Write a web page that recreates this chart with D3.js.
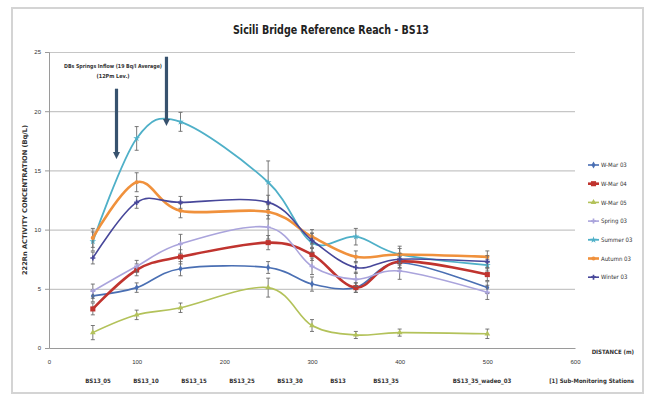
<!DOCTYPE html>
<html>
<head>
<meta charset="utf-8">
<script src="https://cdn.jsdelivr.net/npm/d3@7/dist/d3.min.js"></script>
<style>
  html, body { margin: 0; padding: 0; background: #fff; }
  svg { display: block; font-family: "Liberation Sans Narrow", "DejaVu Sans Condensed", "Liberation Sans", sans-serif; }
</style>
</head>
<body>
<svg id="chart" width="649" height="399"></svg>
<script>
// Distances of the sampling points along the reach (m)
const distances = [50, 100, 150, 250, 300, 350, 400, 500];

// Survey series
const seriesNames = ["W-Mar 03", "W-Mar 04", "W-Mar 05", "Spring 03", "Summer 03", "Autumn 03", "Winter 03"];
const wMar03   = [4.4, 5.1, 6.7, 6.8, 5.4, 5.1, 7.2, 5.1];
const wMar04   = [3.3, 6.6, 7.7, 8.9, 7.9, 5.1, 7.3, 6.2];
const wMar05   = [1.3, 2.8, 3.4, 5.1, 1.9, 1.1, 1.3, 1.2];
const spring03 = [4.8, 6.9, 8.8, 10.2, 6.9, 5.8, 6.5, 4.7];
const summer03 = [9.0, 17.7, 19.1, 14.0, 8.9, 9.4, 7.9, 7.0];
const autumn03 = [9.3, 14.0, 11.6, 11.5, 9.4, 7.7, 7.9, 7.7];
const winter03 = [7.6, 12.3, 12.3, 12.3, 9.1, 6.8, 7.5, 7.3];

// Error half-widths
const errWMar03   = [0.5, 0.4, 0.6, 0.5, 0.6, 0.4, 0.5, 0.5];
const errWMar04   = [0.5, 0.5, 0.6, 0.6, 0.5, 0.4, 0.5, 0.5];
const errWMar05   = [0.6, 0.4, 0.4, 0.8, 0.5, 0.3, 0.3, 0.4];
const errSpring03 = [0.6, 0.5, 0.8, 1.0, 0.7, 0.6, 0.7, 0.6];
const errSummer03 = [0.8, 1.0, 0.8, 1.8, 0.8, 0.7, 0.7, 0.5];
const errAutumn03 = [0.8, 0.8, 0.6, 0.6, 0.6, 0.5, 0.5, 0.5];
const errWinter03 = [0.5, 0.5, 0.5, 0.6, 0.6, 0.5, 0.5, 0.5];

// Axis ticks
const yTicks = [0, 5, 10, 15, 20, 25];
const xTicks = [0, 100, 200, 300, 400, 500, 600];

// Sub-monitoring station names (one slot left empty)
const stations = ["BS13_05", "BS13_10", "BS13_15", "BS13_25", "BS13_30", "BS13", "BS13_35", "", "BS13_35_wadeo_03"];

// Spring inflow arrows: [distance, top value, bottom value]
const arrows = [[77, 21.9, 16.0], [134, 24.6, 18.8]];

const seriesValues = [wMar03, wMar04, wMar05, spring03, summer03, autumn03, winter03];
const seriesErrors = [errWMar03, errWMar04, errWMar05, errSpring03, errSummer03, errAutumn03, errWinter03];
const colors  = ["#4a6fb3", "#c0342f", "#b3c25a", "#aaa4dc", "#4fb0c8", "#f0913c", "#47479a"];
const widths  = [1.6, 2.6, 1.6, 1.6, 1.8, 2.6, 1.6];
const markers = ["diamond", "square", "triangle", "cross", "star", "circle", "cross"];

const svg = d3.select("#chart");

// Outer chart frame
svg.append("rect").attr("x", 12).attr("y", 8).attr("width", 631).attr("height", 385)
  .attr("fill", "#fff").attr("stroke", "#d4d4d4").attr("stroke-width", 2);

const x = d3.scaleLinear().domain([0, 600]).range([49, 575]);
const y = d3.scaleLinear().domain([0, 25]).range([348, 52]);

// Title
svg.append("text").attr("x", 331).attr("y", 34).attr("text-anchor", "middle")
  .attr("font-size", 13).attr("font-weight", "bold").attr("fill", "#222")
  .attr("textLength", 196).attr("lengthAdjust", "spacingAndGlyphs")
  .text("Sicili Bridge Reference Reach - BS13");

// Horizontal gridlines
const grid = svg.append("g").attr("transform", `translate(${x(0)},0)`)
  .call(d3.axisLeft(y).tickValues(yTicks.filter(v => v > 0)).tickSize(-(x(600) - x(0))).tickFormat(""));
grid.select(".domain").remove();
grid.selectAll("line").attr("stroke", "#c6c6c6").attr("stroke-width", 1.2);

// Y axis
const yAxis = svg.append("g").attr("transform", `translate(${x(0)},0)`)
  .call(d3.axisLeft(y).tickValues(yTicks).tickSize(4).tickPadding(4));
yAxis.select(".domain").attr("stroke", "#9a9a9a");
yAxis.selectAll("line").attr("stroke", "#9a9a9a");
yAxis.selectAll("text").attr("font-size", 6).attr("fill", "#333").attr("font-family", null);

// X axis
const xAxis = svg.append("g").attr("transform", `translate(0,${y(0)})`)
  .call(d3.axisBottom(x).tickValues(xTicks).tickSize(0).tickPadding(12));
xAxis.select(".domain").attr("stroke", "#9a9a9a").attr("stroke-width", 1.2);
xAxis.selectAll("text").attr("font-size", 6).attr("fill", "#333").attr("font-family", null);

// Axis titles
svg.append("text").attr("transform", "translate(27,200) rotate(-90)")
  .attr("text-anchor", "middle").attr("font-size", 6.5).attr("font-weight", "bold").attr("fill", "#333")
  .attr("textLength", 150).attr("lengthAdjust", "spacingAndGlyphs")
  .text("222Rn ACTIVITY CONCENTRATION (Bq/L)");
svg.append("text").attr("x", 634).attr("y", 354).attr("text-anchor", "end")
  .attr("font-size", 6).attr("font-weight", "bold").attr("fill", "#333")
  .text("DISTANCE (m)");

// Station label row
const sx = d3.scalePoint().domain(d3.range(stations.length)).range([98, 482]);
svg.append("g").selectAll("text").data(stations).join("text")
  .attr("x", (d, i) => sx(i)).attr("y", 383).attr("text-anchor", "middle")
  .attr("font-size", 6).attr("font-weight", "bold").attr("fill", "#333")
  .text(d => d);
svg.append("text").attr("x", 634).attr("y", 383).attr("text-anchor", "end")
  .attr("font-size", 6).attr("font-weight", "bold").attr("fill", "#333")
  .text("[1] Sub-Monitoring Stations");

// Series lines
const line = d3.line().x((d, i) => x(distances[i])).y(d => y(d)).curve(d3.curveCardinal.tension(0));

const symbolFor = {
  diamond: d3.symbolDiamond, square: d3.symbolSquare, triangle: d3.symbolTriangle,
  cross: d3.symbolCross, star: d3.symbolStar, circle: d3.symbolCircle
};

seriesValues.forEach((vals, s) => {
  const g = svg.append("g");
  // error bars
  const eb = g.selectAll("g.err").data(vals).join("g").attr("class", "err");
  eb.append("line")
    .attr("x1", (d, i) => x(distances[i])).attr("x2", (d, i) => x(distances[i]))
    .attr("y1", (d, i) => y(d + seriesErrors[s][i])).attr("y2", (d, i) => y(d - seriesErrors[s][i]))
    .attr("stroke", "#6a6a6a").attr("stroke-width", 0.9);
  [1, -1].forEach(sign => {
    eb.append("line")
      .attr("x1", (d, i) => x(distances[i]) - 2).attr("x2", (d, i) => x(distances[i]) + 2)
      .attr("y1", (d, i) => y(d + sign * seriesErrors[s][i])).attr("y2", (d, i) => y(d + sign * seriesErrors[s][i]))
      .attr("stroke", "#6a6a6a").attr("stroke-width", 0.9);
  });
  g.append("path").attr("d", line(vals)).attr("fill", "none")
    .attr("stroke", colors[s]).attr("stroke-width", widths[s]).attr("stroke-linejoin", "round");
  g.selectAll("path.mk").data(vals).join("path").attr("class", "mk")
    .attr("transform", (d, i) => `translate(${x(distances[i])},${y(d)})`)
    .attr("d", d3.symbol().type(symbolFor[markers[s]]).size(s === 1 ? 26 : 14))
    .attr("fill", colors[s]);
});

// Spring inflow arrows
const defs = svg.append("defs");
defs.append("marker").attr("id", "ah").attr("viewBox", "0 0 10 10")
  .attr("refX", 5).attr("refY", 5).attr("markerWidth", 2.2).attr("markerHeight", 2.2)
  .attr("orient", "auto")
  .append("path").attr("d", "M0,0 L10,5 L0,10 Z").attr("fill", "#37526e");
svg.append("g").selectAll("line").data(arrows).join("line")
  .attr("x1", d => x(d[0])).attr("x2", d => x(d[0]))
  .attr("y1", d => y(d[1])).attr("y2", d => y(d[2]) - 3)
  .attr("stroke", "#37526e").attr("stroke-width", 3.2)
  .attr("marker-end", "url(#ah)");

svg.append("text").attr("x", 113).attr("y", 68).attr("text-anchor", "middle")
  .attr("font-size", 5.5).attr("font-weight", "bold").attr("fill", "#333")
  .attr("textLength", 98).attr("lengthAdjust", "spacingAndGlyphs")
  .text("DBs Springs Inflow (19 Bq/l Average)");
svg.append("text").attr("x", 113).attr("y", 78).attr("text-anchor", "middle")
  .attr("font-size", 5.5).attr("font-weight", "bold").attr("fill", "#333")
  .text("(12Pm Lev.)");

// Legend
const legend = svg.append("g").selectAll("g").data(seriesNames).join("g")
  .attr("transform", (d, i) => `translate(588,${165 + i * 18.7})`);
legend.append("line").attr("x1", 0).attr("x2", 11).attr("y1", 0).attr("y2", 0)
  .attr("stroke", (d, i) => colors[i]).attr("stroke-width", (d, i) => widths[i]);
legend.append("path").attr("transform", "translate(5.5,0)")
  .attr("d", (d, i) => d3.symbol().type(symbolFor[markers[i]]).size(i === 1 ? 26 : 14)())
  .attr("fill", (d, i) => colors[i]);
legend.append("text").attr("x", 13).attr("y", 2.2)
  .attr("font-size", 6).attr("fill", "#333").text(d => d);
</script>
</body>
</html>
